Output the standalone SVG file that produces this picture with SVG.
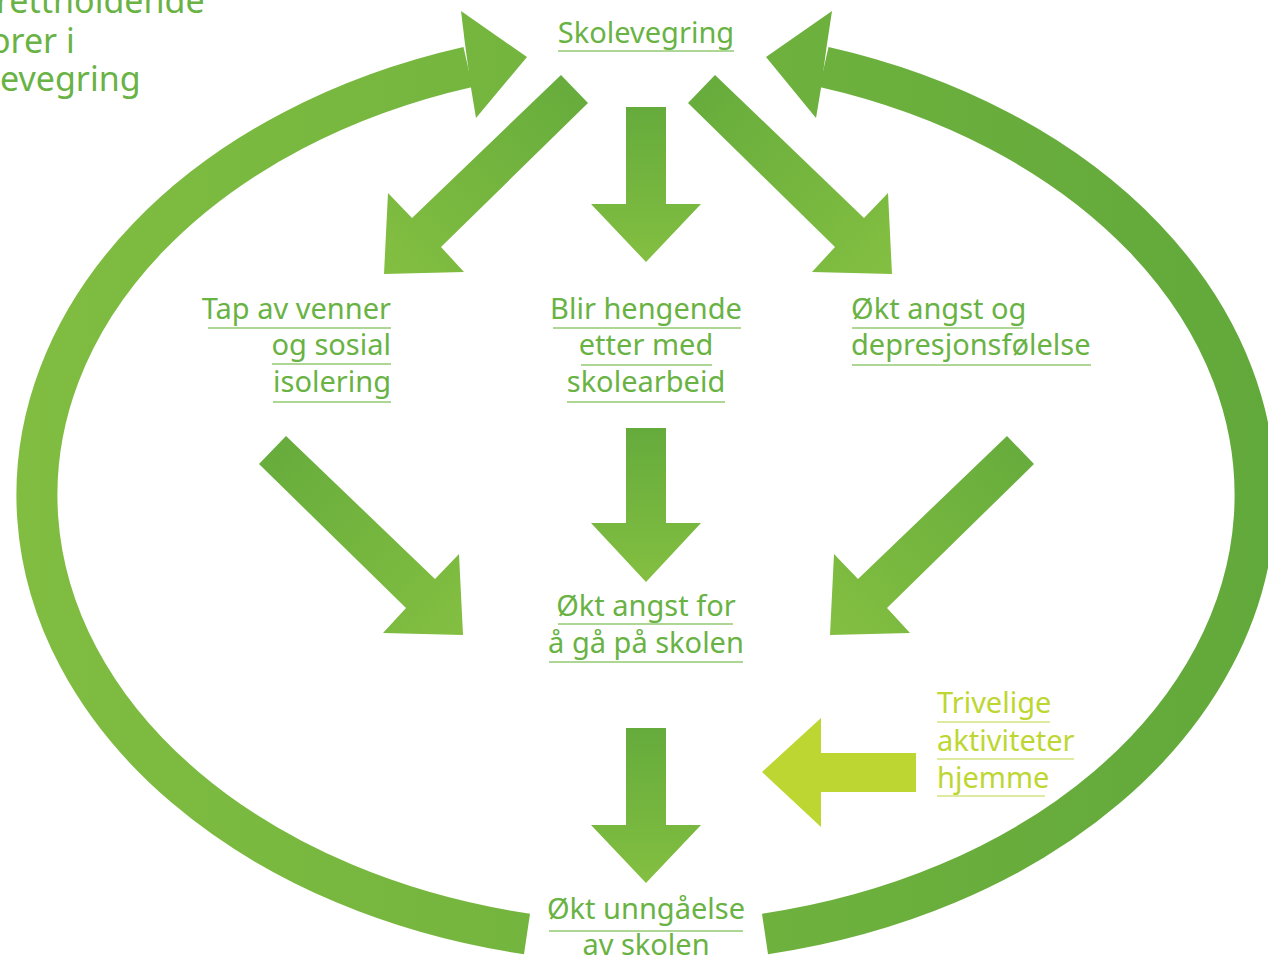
<svg xmlns="http://www.w3.org/2000/svg" width="1268" height="965" viewBox="0 0 1268 965">
<defs>
<linearGradient id="gLoop" gradientUnits="userSpaceOnUse" x1="14" y1="0" x2="1268" y2="0">
<stop offset="0" stop-color="#80bd41"/><stop offset="1" stop-color="#62a93b"/>
</linearGradient>
<linearGradient id="gDown" x1="0" y1="0" x2="0" y2="1">
<stop offset="0" stop-color="#65ab3c"/><stop offset="1" stop-color="#83bf41"/>
</linearGradient>
<linearGradient id="gDL" x1="1" y1="0" x2="0" y2="1">
<stop offset="0" stop-color="#65ab3c"/><stop offset="1" stop-color="#83bf41"/>
</linearGradient>
<linearGradient id="gDR" x1="0" y1="0" x2="1" y2="1">
<stop offset="0" stop-color="#65ab3c"/><stop offset="1" stop-color="#83bf41"/>
</linearGradient>
<style>
.t{font-family:"Noto Sans","Open Sans","DejaVu Sans",sans-serif;font-size:29px;fill:#69b244}
.ty{font-family:"Noto Sans","Open Sans","DejaVu Sans",sans-serif;font-size:29px;fill:#bdd631}
.h{font-family:"Noto Sans","Open Sans","DejaVu Sans",sans-serif;font-size:34px;fill:#69b244}
.u{stroke:#93c871;stroke-width:1.5;fill:none}
.uy{stroke:#d3e37f;stroke-width:1.5;fill:none}
.loop{fill:none;stroke:url(#gLoop);stroke-width:41}
</style>
</defs>
<rect width="1268" height="965" fill="#ffffff"/>
<g id="title">
<text class="h" x="-4" y="13">rettholdende</text>
<text class="h" x="-10" y="53">orer i</text>
<text class="h" x="0" y="91">evegring</text>
</g>
<g id="connectors">
<path class="loop" d="M527,934 A612,448 0 0 1 468,67"/>
<polygon fill="url(#gLoop)" points="465,44 461,11 527,57 476,118 471,88"/>
<path class="loop" d="M765,934 A612,448 0 0 0 824,67"/>
<polygon fill="url(#gLoop)" points="827,44 832,11 766,57 816,118 821,88"/>
<polygon fill="url(#gDL)" points="561,75 588,103 441,247 464,272 384,274 388,193 412,218"/>
<polygon fill="url(#gDown)" points="626,107 666,107 666,204 701,204 646,262 591,204 626,204"/>
<polygon fill="url(#gDR)" points="715,75 688,103 835,247 812,272 892,274 888,193 864,218"/>
<polygon fill="url(#gDR)" points="286,436 259,464 406,608 383,633 463,635 459,554 435,579"/>
<polygon fill="url(#gDown)" points="626,428 666,428 666,523 701,523 646,582 591,523 626,523"/>
<polygon fill="url(#gDL)" points="1007,436 1034,464 887,608 910,633 830,635 834,554 858,579"/>
<polygon fill="url(#gDown)" points="626,728 666,728 666,825 701,825 646,883 591,825 626,825"/>
<polygon fill="#bdd631" points="916,753 916,792 821,792 821,827 762,772 821,718 821,753"/>
</g>
<g id="n-skolevegring">
<text class="t" x="646" y="43" text-anchor="middle">Skolevegring</text>
<line class="u" x1="558" y1="51" x2="734" y2="51"/>
</g>
<g id="n-tap">
<text class="t" x="391" y="319" text-anchor="end">Tap av venner</text>
<line class="u" x1="208" y1="328" x2="391" y2="328"/>
<text class="t" x="391" y="355" text-anchor="end">og sosial</text>
<line class="u" x1="272" y1="364" x2="391" y2="364"/>
<text class="t" x="391" y="392" text-anchor="end">isolering</text>
<line class="u" x1="273" y1="402" x2="391" y2="402"/>
</g>
<g id="n-blir">
<text class="t" x="646" y="319" text-anchor="middle">Blir hengende</text>
<line class="u" x1="553" y1="328" x2="741" y2="328"/>
<text class="t" x="646" y="355" text-anchor="middle">etter med</text>
<line class="u" x1="581" y1="365" x2="712" y2="365"/>
<text class="t" x="646" y="392" text-anchor="middle">skolearbeid</text>
<line class="u" x1="567" y1="402" x2="725" y2="402"/>
</g>
<g id="n-angst-depr">
<text class="t" x="851" y="319">Økt angst og</text>
<line class="u" x1="852" y1="328" x2="1023" y2="328"/>
<text class="t" x="851" y="355">depresjonsfølelse</text>
<line class="u" x1="852" y1="365" x2="1091" y2="365"/>
</g>
<g id="n-angst-skole">
<text class="t" x="646" y="616" text-anchor="middle">Økt angst for</text>
<line class="u" x1="558" y1="624" x2="733" y2="624"/>
<text class="t" x="646" y="653" text-anchor="middle">å gå på skolen</text>
<line class="u" x1="549" y1="662" x2="743" y2="662"/>
</g>
<g id="n-trivelige">
<text class="ty" x="937" y="713">Trivelige</text>
<line class="uy" x1="937" y1="722" x2="1050" y2="722"/>
<text class="ty" x="937" y="751">aktiviteter</text>
<line class="uy" x1="937" y1="759" x2="1074" y2="759"/>
<text class="ty" x="937" y="788">hjemme</text>
<line class="uy" x1="937" y1="796" x2="1045" y2="796"/>
</g>
<g id="n-unngaelse">
<text class="t" x="646" y="919" text-anchor="middle">Økt unngåelse</text>
<line class="u" x1="549" y1="931" x2="743" y2="931"/>
<text class="t" x="646" y="955" text-anchor="middle">av skolen</text>
</g>
</svg>
